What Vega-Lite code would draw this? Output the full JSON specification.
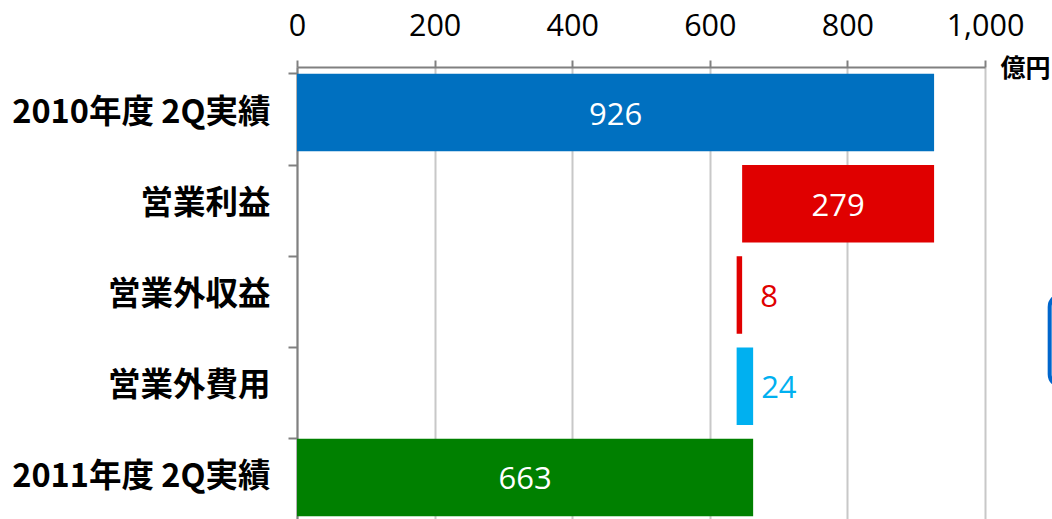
{
  "$schema": "https://vega.github.io/schema/vega-lite/v6.json",
  "autosize": "none",
  "width": 688,
  "height": 456,
  "padding": {"left": 297, "top": 67, "right": 67, "bottom": 0},
  "background": "white",
  "config": {
    "view": {"stroke": null},
    "font": "Noto Sans CJK JP"
  },
  "datasets": {
    "steps": [
      {"item": "2010年度 2Q実績", "start": 0, "end": 926, "value": 926, "kind": "実績2010"},
      {"item": "営業利益", "start": 647, "end": 926, "value": 279, "kind": "減少"},
      {"item": "営業外収益", "start": 639, "end": 647, "value": 8, "kind": "減少"},
      {"item": "営業外費用", "start": 639, "end": 663, "value": 24, "kind": "増加"},
      {"item": "2011年度 2Q実績", "start": 0, "end": 663, "value": 663, "kind": "実績2011"}
    ],
    "note": [
      {"from": "営業外収益", "to": "営業外費用", "x0": 1094, "x1": 1400}
    ]
  },
  "data": {"name": "steps"},
  "encoding": {
    "y": {
      "field": "item",
      "type": "nominal",
      "sort": null,
      "title": null,
      "scale": {"paddingInner": 0.15, "paddingOuter": 0.075},
      "axis": {
        "orient": "left",
        "bandPosition": 0,
        "domainColor": "#808080",
        "domainWidth": 2,
        "tickColor": "#808080",
        "tickWidth": 2,
        "tickSize": 9,
        "labelPadding": 18,
        "labelFont": "Noto Sans CJK JP",
        "labelFontWeight": "bold",
        "labelFontSize": 32.5,
        "labelColor": "#000000",
        "labelLimit": 400
      }
    }
  },
  "layer": [
    {
      "mark": {"type": "bar", "clip": false},
      "encoding": {
        "x": {
          "field": "start",
          "type": "quantitative",
          "scale": {"domain": [0, 1000], "nice": false, "zero": false},
          "axis": {
            "orient": "top",
            "values": [0, 200, 400, 600, 800, 1000],
            "format": ",d",
            "labelFlush": false,
            "domainColor": "#808080",
            "domainWidth": 2,
            "tickColor": "#808080",
            "tickWidth": 2,
            "tickSize": 7,
            "grid": true,
            "gridColor": "#C8C8C8",
            "gridWidth": 2,
            "labelFont": "Open Sans",
            "labelFontSize": 30.5,
            "labelColor": "#000000",
            "labelBaseline": "alphabetic",
            "labelPadding": 25,
            "title": "億円",
            "titleFont": "Noto Sans CJK JP",
            "titleFontWeight": "bold",
            "titleFontSize": 25,
            "titleColor": "#000000",
            "titleAlign": "left",
            "titleBaseline": "middle",
            "titleAngle": 0,
            "titleX": 703,
            "titleY": 1
          }
        },
        "x2": {"field": "end"},
        "color": {
          "field": "kind",
          "type": "nominal",
          "scale": {
            "domain": ["実績2010", "減少", "増加", "実績2011"],
            "range": ["#0070C0", "#E00000", "#00B0F0", "#008000"]
          },
          "legend": null
        }
      }
    },
    {
      "transform": [
        {"filter": "datum.value > 100"},
        {"calculate": "(datum.start + datum.end) / 2", "as": "mid"}
      ],
      "mark": {"type": "text", "color": "white", "font": "Open Sans", "fontSize": 31, "baseline": "middle", "align": "center", "dy": 3},
      "encoding": {
        "x": {"field": "mid", "type": "quantitative"},
        "text": {"field": "value", "type": "quantitative"}
      }
    },
    {
      "transform": [{"filter": "datum.item === '営業外収益'"}],
      "mark": {"type": "text", "color": "#E00000", "font": "Open Sans", "fontSize": 31, "baseline": "middle", "align": "left", "dx": 18, "dy": 3},
      "encoding": {
        "x": {"field": "end", "type": "quantitative"},
        "text": {"field": "value", "type": "quantitative"}
      }
    },
    {
      "transform": [{"filter": "datum.item === '営業外費用'"}],
      "mark": {"type": "text", "color": "#00B0F0", "font": "Open Sans", "fontSize": 31, "baseline": "middle", "align": "left", "dx": 8, "dy": 3},
      "encoding": {
        "x": {"field": "end", "type": "quantitative"},
        "text": {"field": "value", "type": "quantitative"}
      }
    },
    {
      "data": {"name": "note"},
      "mark": {"type": "rect", "clip": false, "fill": "white", "stroke": "#0066CC", "strokeWidth": 4, "cornerRadius": 12},
      "encoding": {
        "x": {"field": "x0", "type": "quantitative"},
        "x2": {"field": "x1"},
        "y": {"field": "from", "type": "nominal", "bandPosition": 0.5},
        "y2": {"field": "to", "bandPosition": 0.5}
      }
    }
  ]
}
